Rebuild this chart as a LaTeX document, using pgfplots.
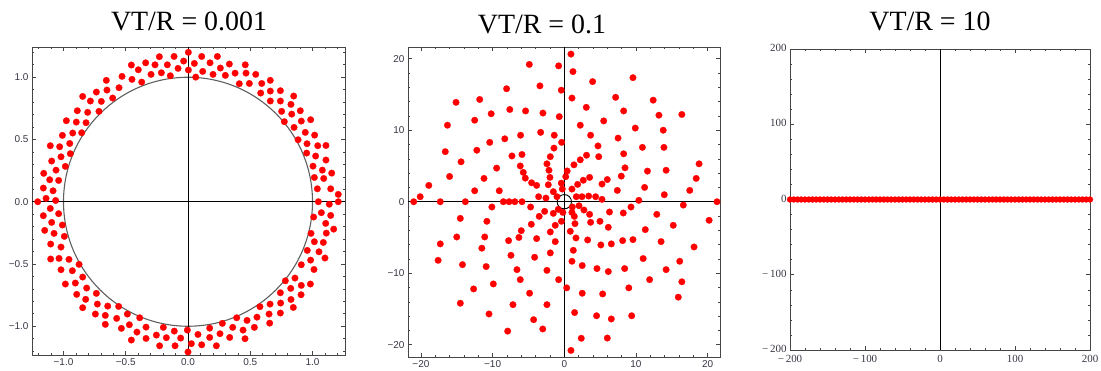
\documentclass[border=0pt]{standalone}
\usepackage{pgfplots}
\pgfplotsset{compat=1.18}
\usepackage{fontspec}
\setmainfont{Liberation Serif}
\newfontfamily\ticksans{Liberation Sans}
\definecolor{ticklab}{RGB}{55,55,70}
\definecolor{framec}{RGB}{70,70,70}
\definecolor{circc}{RGB}{95,95,95}
\pgfplotsset{
 mmastyle/.style={
   scale only axis,
   axis lines=box,
   axis line style={framec, line width=0.9bp},
   tick align=inside,
   tick pos=both,
   major tick length=4bp, minor tick length=2.2bp,
   tick style={framec, line width=0.6bp},
   clip=false,
   anchor=south west,
   xticklabel style={font=\ticksans\fontsize{10}{12}\selectfont, text=ticklab},
   yticklabel style={font=\ticksans\fontsize{10}{12}\selectfont, text=ticklab},
 },
 redpts/.style={color=red, only marks, mark=*, mark size=3.3bp, mark options={draw=red, fill=red, line width=0.2bp}},
 zeroline/.style={black, line width=0.8bp, no marks},
}
\begin{document}
\begin{tikzpicture}
% ---------------- Panel 1 ----------------
\begin{axis}[mmastyle, at={(32bp,16bp)}, width=313bp, height=308bp,
  xmin=-1.253, xmax=1.261, ymin=-1.231, ymax=1.243,
  xtick={-1,-0.5,0,0.5,1}, xticklabels={−1.0,−0.5,0.0,0.5,1.0},
  ytick={-1,-0.5,0,0.5,1}, yticklabels={−1.0,−0.5,0.0,0.5,1.0},
  minor xtick={-1.2,-1.1,-0.9,-0.8,-0.7,-0.6,-0.4,-0.3,-0.2,-0.1,0.1,0.2,0.3,0.4,0.6,0.7,0.8,0.9,1.1,1.2},
  minor ytick={-1.2,-1.1,-0.9,-0.8,-0.7,-0.6,-0.4,-0.3,-0.2,-0.1,0.1,0.2,0.3,0.4,0.6,0.7,0.8,0.9,1.1,1.2}]
\addplot[redpts] coordinates {
(0.003,1.2) (-0.112,1.167) (-0.23,1.165) (-0.035,1.13) (-0.166,1.1) (-0.265,1.1) (-0.34,1.116) (-0.455,1.098)
(0.003,1.058) (-0.08,1.071) (-0.142,1.012) (-0.214,1.036) (-0.297,1.023) (-0.399,1.06) (-0.372,0.961) (-0.45,0.983)
(-0.53,1.007) (-0.656,0.975) (-0.554,0.916) (-0.605,0.833) (-0.651,0.897) (-0.736,0.881) (-0.784,0.809) (-0.696,0.806)
(-0.846,0.846) (-0.806,0.718) (-0.715,0.726) (-0.889,0.731) (-0.897,0.64) (-0.819,0.635) (-0.977,0.651) (-1.009,0.533)
(-0.926,0.552) (-0.854,0.554) (-0.95,0.468) (-1.031,0.442) (-1.106,0.45) (-1.02,0.361) (-0.945,0.386) (-1.095,0.327)
(-0.985,0.284) (-1.06,0.254) (-1.159,0.228) (-1.039,0.171) (-1.111,0.177) (-1.162,0.11) (-1.084,0.088) (-1.14,0.027)
(-1.063,0.01) (-1.207,0.0)
(0.11,1.167) (0.236,1.167) (0.051,1.111) (0.177,1.116) (0.332,1.106) (0.46,1.1) (0.118,1.047) (0.26,1.074)
(0.201,1.023) (0.3,1.015) (0.378,1.033) (0.466,1.033) (0.544,1.023) (0.062,1.001) (0.412,0.948) (0.493,0.95)
(0.592,0.95) (0.661,0.975) (0.584,0.873) (0.661,0.889) (0.742,0.892) (0.661,0.809) (0.742,0.809) (0.827,0.782)
(0.849,0.849) (0.752,0.726) (0.833,0.704) (0.902,0.731) (0.774,0.643) (0.852,0.597) (0.91,0.648) (0.985,0.659)
(0.884,0.498) (0.942,0.557) (1.017,0.535) (0.956,0.466) (1.042,0.45) (1.108,0.452) (0.953,0.391) (1.025,0.367)
(1.108,0.335) (1.004,0.286) (1.079,0.254) (1.154,0.23) (1.015,0.195) (1.09,0.187) (1.039,0.104) (1.146,0.104)
(1.207,0.059) (1.047,0.0) (1.135,-0.02) (1.207,0.0)
(-1.162,-0.112) (-1.106,-0.054) (-1.039,-0.096) (-1.095,-0.166) (-1.009,-0.187) (-1.151,-0.23) (-1.076,-0.254) (-0.993,-0.278)
(-1.103,-0.34) (-1.02,-0.364) (-1.103,-0.46) (-1.036,-0.455) (-0.956,-0.463) (-1.02,-0.546) (-0.929,-0.554) (-0.875,-0.503)
(-0.985,-0.661) (-0.905,-0.653) (-0.846,-0.605) (-0.894,-0.744) (-0.822,-0.784) (-0.814,-0.693) (-0.846,-0.851) (-0.744,-0.902)
(-0.736,-0.736) (-0.728,-0.822) (-0.664,-0.913) (-0.645,-0.838) (-0.664,-0.985) (-0.573,-0.937) (-0.557,-0.841) (-0.535,-1.017)
(-0.487,-0.902) (-0.471,-0.988) (-0.455,-1.111) (-0.41,-1.047) (-0.388,-0.932) (-0.337,-1.007) (-0.337,-1.098) (-0.254,-1.071)
(-0.228,-1.157) (-0.198,-1.009) (-0.174,-1.092) (-0.11,-1.039) (-0.104,-1.157) (-0.059,-1.095) (-0.005,-1.031) (0.0,-1.207)
(0.027,-1.14)
(0.08,-1.066) (0.11,-1.149) (0.174,-1.015) (0.174,-1.09) (0.228,-1.157) (0.257,-1.06) (0.276,-0.977) (0.335,-1.09)
(0.359,-1.009) (0.391,-0.932) (0.442,-1.031) (0.458,-1.1) (0.474,-0.953) (0.533,-1.009) (0.554,-0.927) (0.578,-0.843)
(0.651,-0.902) (0.659,-0.822) (0.656,-0.975) (0.742,-0.894) (0.744,-0.814) (0.742,-0.731) (0.782,-0.635) (0.825,-0.696)
(0.827,-0.785) (0.846,-0.849) (0.859,-0.613) (0.91,-0.672) (0.908,-0.747) (0.91,-0.506) (1.012,-0.544) (0.983,-0.661)
(0.958,-0.391) (0.985,-0.469) (1.052,-0.402) (1.1,-0.452) (0.988,-0.254) (1.015,-0.321) (1.087,-0.327) (1.111,-0.252)
(1.17,-0.22) (1.009,-0.123) (1.071,-0.088) (1.106,-0.174) (1.146,-0.11)
};
\draw[circc, line width=1.1bp] (axis cs:0,0) ellipse [x radius=1, y radius=1];
\addplot[zeroline] coordinates {(-1.253,0) (1.261,0)};
\addplot[zeroline] coordinates {(0,-1.231) (0,1.243)};
\end{axis}
% ---------------- Panel 2 ----------------
\begin{axis}[mmastyle, at={(408bp,14bp)}, width=312bp, height=310bp,
  xmin=-21.8, xmax=21.72, ymin=-21.72, ymax=21.64,
  xtick={-20,-10,0,10,20}, xticklabels={−20,−10,0,10,20},
  ytick={-20,-10,0,10,20}, yticklabels={−20,−10,0,10,20},
  minor xtick={-20,-18,...,20}, minor ytick={-20,-18,...,20}]
\addplot[redpts] coordinates {
(-4.88,19.2) (-0.79,19.0) (-0.42,15.6) (-3.4,16.2) (-8.05,15.8) (-11.8,14.3) (-15.1,13.9) (-7.6,12.9)
(-5.4,12.7) (-2.98,12.4) (-0.7,11.9) (-10.2,12.3) (-12.5,11.4) (-16.3,10.7) (-6.1,9.3) (-3.3,9.7)
(-1.4,9.3) (-8.3,8.8) (-10.4,8.3) (-0.37,8.3) (-16.6,7.0) (-12.2,7.2) (-7.3,6.4) (-5.9,6.6)
(-1.44,7.5) (-14.4,5.58) (-9.44,4.7) (-6.14,5.0) (-1.95,6.3) (-2.42,5.3) (-5.72,4.1) (-2.14,4.4)
(-16.0,3.53) (-11.2,3.26) (-5.44,3.3) (-2.0,3.4) (0.4,4.3) (-4.56,2.65) (-3.86,2.28) (-2.23,2.37)
(-0.42,2.6) (-18.9,2.28) (-12.5,1.53) (-9.07,1.53) (-3.58,0.7) (-2.56,0.51) (-1.53,1.4) (-0.28,1.77)
(-1.02,0.7) (-20.1,0.7) (-21.0,0) (-17.3,0) (-13.8,0) (-8.5,0) (-7.7,0) (-6.9,0) (-5.9,0)
(0.93,20.65) (1.21,18.2) (3.95,16.8) (9.58,17.35) (1.07,14.5) (7.16,14.6) (12.4,14.2) (3.07,13.2)
(8.28,12.7) (13.2,12.1) (16.4,12.2) (2.23,10.7) (5.5,11.3) (9.9,10.3) (13.8,10.0) (3.67,9.3)
(7.5,8.9) (4.7,7.8) (4.8,6.3) (10.9,7.6) (13.9,7.6) (3.1,6.5) (2.23,5.86) (8.28,6.7)
(1.35,5.16) (8.47,4.74) (11.6,4.28) (14.2,4.4) (18.8,5.3) (7.95,3.58) (6.0,3.1) (3.53,3.4)
(2.65,3.0) (1.86,2.42) (18.4,3.26) (5.26,2.47) (1.07,1.77) (0.2,3.5) (1.67,0.7) (2.47,0.7)
(3.4,0.79) (4.37,0.7) (5.26,0.33) (10.4,0.19) (7.4,1.58) (11.2,2.0) (13.95,0.98) (17.5,1.58) (21.3,0)
(-10.1,-0.74) (-4.7,-0.74) (-3.5,-2.05) (-2.74,-1.35) (-1.53,-1.63) (-0.84,-1.07) (-0.2,-1.5) (-14.5,-2.33)
(-10.8,-2.74) (-6.0,-4.05) (-4.6,-3.16) (-1.95,-4.23) (-1.26,-3.3) (-0.4,-2.74) (-15.0,-4.93) (-11.1,-4.93)
(-7.77,-5.44) (-6.33,-5.0) (-3.86,-5.16) (-1.26,-5.58) (-17.3,-5.9) (-11.5,-6.5) (-7.44,-7.5) (-4.14,-7.77)
(-1.95,-7.16) (-17.6,-8.2) (-14.2,-8.8) (-10.9,-9.07) (-6.6,-9.5) (-6.14,-10.9) (-2.42,-9.6) (-0.79,-10.9)
(-12.65,-12.2) (-9.9,-11.5) (-4.84,-12.8) (-14.5,-14.2) (-7.16,-14.4) (-2.42,-14.4) (-10.5,-15.7) (-4.28,-16.5)
(-3.0,-17.8) (-7.9,-18.1)
(16.6,-0.47) (9.3,-0.74) (8.23,-1.58) (6.3,-1.44) (3.53,-1.77) (2.74,-1.16) (2.05,-0.56) (1.12,-0.74)
(1.07,-1.49) (1.4,-2.05) (1.49,-3.07) (3.67,-2.88) (4.98,-2.74) (6.14,-3.58) (0.84,-4.14) (1.63,-5.07)
(3.26,-5.35) (5.1,-6.05) (6.56,-5.9) (8.14,-5.44) (9.58,-5.3) (11.3,-3.9) (12.9,-1.77) (15.2,-3.3)
(13.5,-5.58) (18.1,-6.33) (20.2,-2.6) (1.26,-6.8) (1.07,-8.33) (2.5,-8.93) (4.56,-9.35) (6.14,-9.77)
(8.42,-9.35) (11.0,-7.95) (14.2,-9.5) (16.1,-8.33) (16.4,-11.2) (15.9,-13.35) (11.9,-10.9) (9.0,-12.05)
(5.35,-12.9) (2.5,-12.8) (0.33,-12.05) (1.44,-15.5) (4.5,-15.95) (6.56,-16.4) (9.4,-15.95) (2.37,-19.1)
(6.0,-19.07) (0.93,-20.8)
};
\draw[black, line width=0.9bp] (axis cs:0,0) ellipse [x radius=1, y radius=1];
\addplot[zeroline] coordinates {(-21.8,0) (21.72,0)};
\addplot[zeroline] coordinates {(0,-21.72) (0,21.64)};
\end{axis}
% ---------------- Panel 3 ----------------
\begin{axis}[mmastyle, at={(790bp,21bp)}, width=300bp, height=301bp,
  xmin=-200, xmax=200, ymin=-200, ymax=200,
  xtick={-200,-100,0,100,200}, xticklabels={−\,200,−\,100,0,100,200},
  ytick={-200,-100,0,100,200}, yticklabels={−\,200,−\,100,0,100,200},
  minor xtick={-200,-180,...,200}, minor ytick={-200,-180,...,200},
  xticklabel style={font=\fontsize{11}{13}\selectfont, text=ticklab, yshift=-2bp},
  yticklabel style={font=\fontsize{11}{13}\selectfont, text=ticklab, yshift=1bp}]
\addplot[redpts, mark size=3bp] coordinates {
(-200,0) (-195,0) (-190,0) (-185,0) (-180,0) (-175,0) (-170,0) (-165,0) (-160,0) (-155,0)
(-150,0) (-145,0) (-140,0) (-135,0) (-130,0) (-125,0) (-120,0) (-115,0) (-110,0) (-105,0)
(-100,0) (-95,0) (-90,0) (-85,0) (-80,0) (-75,0) (-70,0) (-65,0) (-60,0) (-55,0)
(-50,0) (-45,0) (-40,0) (-35,0) (-30,0) (-25,0) (-20,0) (-15,0) (-10,0) (-5,0)
(0,0) (5,0) (10,0) (15,0) (20,0) (25,0) (30,0) (35,0) (40,0) (45,0)
(50,0) (55,0) (60,0) (65,0) (70,0) (75,0) (80,0) (85,0) (90,0) (95,0)
(100,0) (105,0) (110,0) (115,0) (120,0) (125,0) (130,0) (135,0) (140,0) (145,0)
(150,0) (155,0) (160,0) (165,0) (170,0) (175,0) (180,0) (185,0) (190,0) (195,0) (200,0)
};
\addplot[zeroline] coordinates {(-200,0) (200,0)};
\addplot[zeroline] coordinates {(0,-200) (0,200)};
\end{axis}
% ---------------- Titles ----------------
\node[anchor=base, font=\fontsize{28}{30}\selectfont, inner sep=0pt] at (189bp,340bp) {VT/R = 0.001};
\node[anchor=base, font=\fontsize{28}{30}\selectfont, inner sep=0pt] at (542bp,337bp) {VT/R = 0.1};
\node[anchor=base, font=\fontsize{28}{30}\selectfont, inner sep=0pt] at (930bp,340bp) {VT/R = 10};
\pgfresetboundingbox
\path[use as bounding box] (0,0) rectangle (1101bp,371bp);
\end{tikzpicture}
\end{document}
